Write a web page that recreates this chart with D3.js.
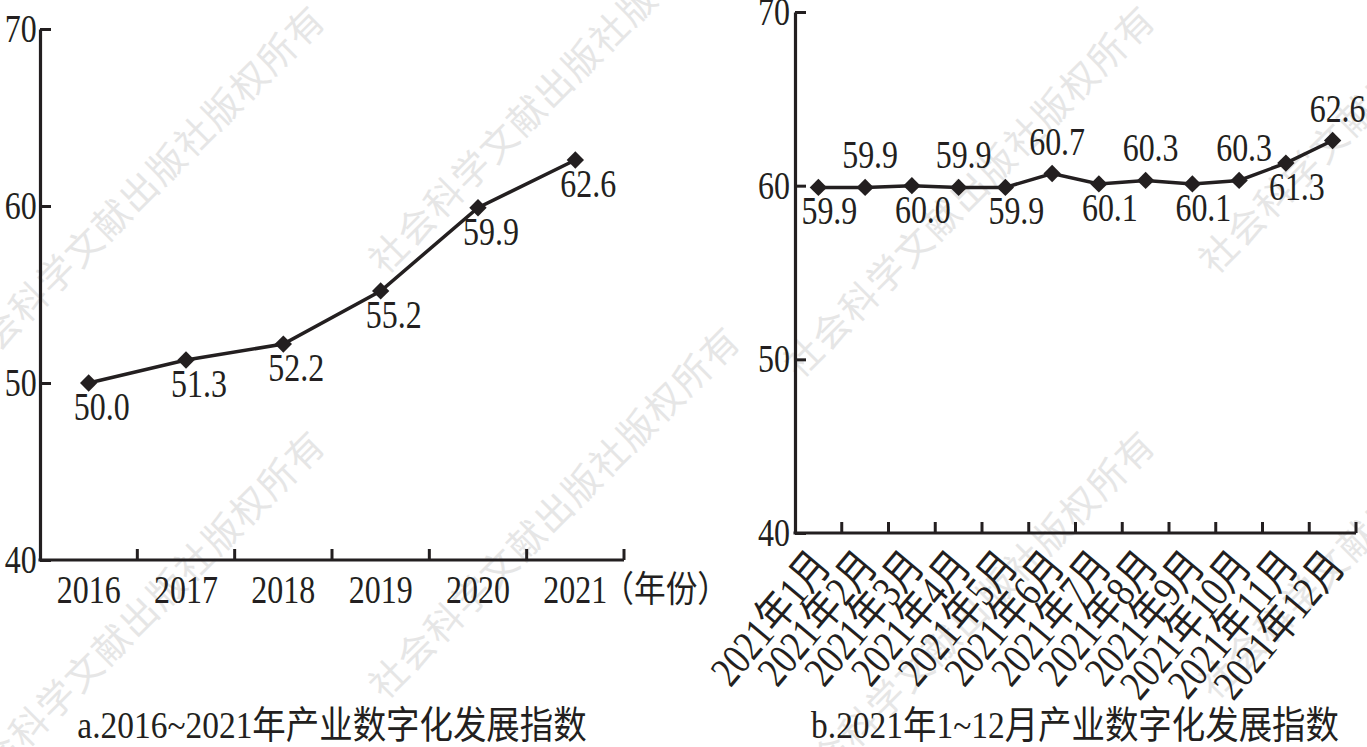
<!DOCTYPE html>
<html>
<head>
<meta charset="utf-8">
<script src="https://cdn.jsdelivr.net/npm/d3@7/dist/d3.min.js"></script>
<style>
  body { margin: 0; background: #fff; }
  svg { display: block; }
</style>
</head>
<body>
<script>
// panel a: yearly index
var years = ["2016", "2017", "2018", "2019", "2020", "2021"];
var yearValues = [50.0, 51.3, 52.2, 55.2, 59.9, 62.6];

// panel b: monthly index 2021
var months = ["2021年1月", "2021年2月", "2021年3月", "2021年4月", "2021年5月", "2021年6月",
              "2021年7月", "2021年8月", "2021年9月", "2021年10月", "2021年11月", "2021年12月"];
var monthValues = [59.9, 59.9, 60.0, 59.9, 59.9, 60.7, 60.1, 60.3, 60.1, 60.3, 61.3, 62.6];

var yTicks = [40, 50, 60, 70];
var titleA = "a.2016~2021年产业数字化发展指数";
var titleB = "b.2021年1~12月产业数字化发展指数";
var unitA = "（年份）";
var watermark = "社会科学文献出版社版权所有";

var W = 1367, H = 747;
var ink = "#231f20";
var font = "'Liberation Serif', 'Noto Sans CJK SC', serif";
var fs = 39;
var squeeze = "scale(0.82,1)";

var svg = d3.select("body").append("svg")
    .attr("width", W)
    .attr("height", H);

// faint diagonal watermark, drawn first so it sits behind everything
var wm = svg.append("g")
    .attr("fill", "#e6e6e6")
    .attr("font-family", "'Noto Sans CJK SC', sans-serif")
    .attr("font-size", 37)
    .attr("letter-spacing", 2);
[-30, 385, 800, 1215].forEach(function(wx, c) {
    [0, 425].forEach(function(off) {
        var wy = (c % 2 === 0 ? 380 : 276) + off;
        wm.append("text")
            .attr("transform", "translate(" + wx + "," + wy + ") rotate(-45)")
            .text(watermark);
    });
});

var diamond = d3.symbol().type(d3.symbolSquare).size(150);

function panel(opts) {
    var x = d3.scaleBand()
        .domain(opts.cats)
        .range([opts.x0, opts.x1]);

    var y = d3.scaleLinear()
        .domain([40, 70])
        .range([opts.y0, opts.y1]);

    var g = svg.append("g");

    // x axis (labels only, ticks drawn at band edges below)
    var xa = g.append("g")
        .attr("transform", "translate(0," + opts.y0 + ")")
        .call(d3.axisBottom(x).tickSize(0).tickSizeOuter(0).tickPadding(0));
    xa.select(".domain").attr("stroke", ink).attr("stroke-width", 3.2)
        .attr("d", "M" + (opts.x0 - 1.5) + ",0H" + opts.x1);
    xa.selectAll("text")
        .attr("fill", ink)
        .attr("font-family", font)
        .attr("font-size", fs);
    opts.styleXLabels(xa.selectAll("text"));

    xa.selectAll(".edge")
        .data(x.domain())
        .enter().append("line")
        .attr("class", "edge")
        .attr("x1", function(d) { return x(d) + x.bandwidth(); })
        .attr("x2", function(d) { return x(d) + x.bandwidth(); })
        .attr("y1", 0)
        .attr("y2", -opts.tick)
        .attr("stroke", ink)
        .attr("stroke-width", 3);

    // y axis, ticks pointing into the plot
    var ya = g.append("g")
        .attr("transform", "translate(" + opts.x0 + ",0)")
        .call(d3.axisLeft(y).tickValues(yTicks).tickSizeInner(-opts.tick).tickSizeOuter(0).tickPadding(opts.ypad));
    ya.select(".domain").attr("stroke", ink).attr("stroke-width", 3.2);
    ya.selectAll(".tick line").attr("stroke", ink).attr("stroke-width", 3);
    ya.selectAll("text")
        .attr("fill", ink)
        .attr("font-family", font)
        .attr("font-size", fs)
        .attr("transform", squeeze);

    var cx = function(d, i) { return x(opts.cats[i]) + x.bandwidth() / 2; };

    var line = d3.line()
        .x(function(d, i) { return cx(d, i); })
        .y(function(d) { return y(d); });

    g.append("path")
        .datum(opts.values)
        .attr("fill", "none")
        .attr("stroke", ink)
        .attr("stroke-width", 3.5)
        .attr("d", line);

    g.selectAll(".pt")
        .data(opts.values)
        .enter().append("path")
        .attr("class", "pt")
        .attr("d", diamond)
        .attr("fill", ink)
        .attr("transform", function(d, i) {
            return "translate(" + cx(d, i) + "," + y(d) + ") rotate(45)";
        });

    g.selectAll(".lbl")
        .data(opts.values)
        .enter().append("text")
        .attr("class", "lbl")
        .attr("fill", ink)
        .attr("font-family", font)
        .attr("font-size", fs)
        .attr("text-anchor", "middle")
        .attr("transform", function(d, i) {
            var o = opts.labelOffset(i);
            return "translate(" + (cx(d, i) + o[0]) + "," + (y(d) + o[1]) + ") " + squeeze;
        })
        .text(function(d) { return d.toFixed(1); });

    svg.append("text")
        .attr("fill", ink)
        .attr("font-family", font)
        .attr("font-size", 38)
        .attr("text-anchor", "middle")
        .attr("transform", "translate(" + opts.titleX + ",738) scale(0.88,1)")
        .text(opts.title);

    return { x: x, y: y, g: g };
}

var a = panel({
    cats: years,
    values: yearValues,
    x0: 40, x1: 624, y0: 560, y1: 29,
    tick: 11, ypad: 4,
    title: titleA, titleX: 332,
    labelOffset: function() { return [13, 37]; },
    styleXLabels: function(t) {
        t.attr("y", 43).attr("dy", 0).attr("transform", squeeze);
    }
});

// unit note after the last year label
a.g.append("text")
    .attr("fill", ink)
    .attr("font-family", font)
    .attr("font-size", 36)
    .attr("transform", "translate(" + (a.x("2021") + a.x.bandwidth() / 2 + 27) + ",602) scale(0.88,1)")
    .text(unitA);

panel({
    cats: months,
    values: monthValues,
    x0: 795, x1: 1356, y0: 533, y1: 12,
    tick: 11, ypad: 6,
    title: titleB, titleX: 1075,
    labelOffset: function(i) { return i % 2 === 0 ? [11, 37] : [5, -19]; },
    styleXLabels: function(t) {
        t.attr("y", 0).attr("dy", 0)
            .attr("font-size", 43)
            .attr("text-anchor", "end")
            .attr("transform", "translate(14,34) rotate(-50) " + squeeze);
    }
});
</script>
</body>
</html>
